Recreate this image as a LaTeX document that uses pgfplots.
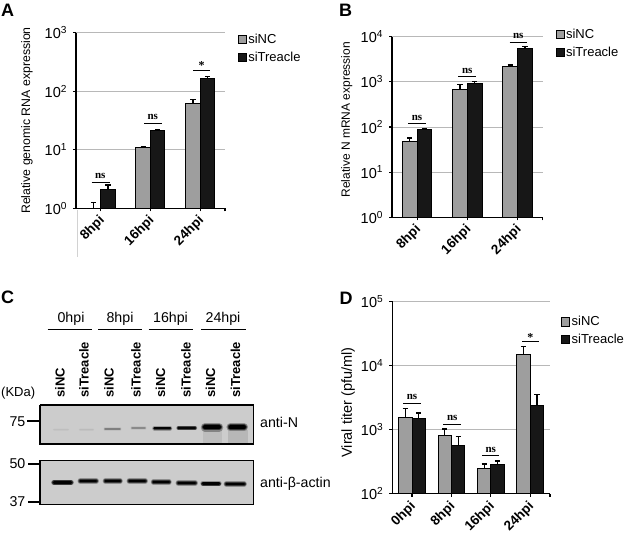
\documentclass[border=0pt]{standalone}
\usepackage{pgfplots}
\pgfplotsset{compat=1.18}
\usepackage{fontspec}
\setmainfont{Liberation Sans}
\newfontfamily\serifb{Liberation Serif}
\definecolor{barg}{gray}{0.62}
\definecolor{bark}{gray}{0.09}
\definecolor{gridg}{gray}{0.72}
\newcommand\sg[5]{\draw[line width=0.9pt] (#1,#3) -- (#2,#3); \node[font=\serifb\bfseries\fontsize{11}{11}\selectfont,inner sep=0pt] at (#4,#5) {ns};}
\newcommand\st[5]{\draw[line width=0.9pt] (#1,#3) -- (#2,#3); \node[font=\serifb\bfseries\fontsize{12}{12}\selectfont,inner sep=0pt] at (#4,#5) {*};}
\pgfplotsset{
 myng/.style={draw=black,line width=1pt,fill=barg},
 mynk/.style={draw=black,line width=1pt,fill=bark},
 mypanel/.style={
  scale only axis, clip=false,
  axis lines*=left, axis line style={-,line width=1.5pt,black},
  log origin=infty,
  ybar=0pt,
  ymajorgrids, grid style={gridg,line width=0.9pt},
  tick style={black,line width=1.1pt}, tick align=outside, major tick length=3pt,
  minor tick length=0pt, minor y tick num=0,
  yticklabel style={font=\fontsize{14.5}{15}\selectfont,xshift=-2.5pt},
  xticklabel style={font=\bfseries\fontsize{13.5}{14}\selectfont,rotate=45,anchor=north east,inner sep=0pt,xshift=-4pt,yshift=0pt},
  ylabel style={anchor=center},
  error bars/y dir=plus, error bars/y explicit,
  error bars/error bar style={line width=1.2pt,black},
  error bars/error mark options={rotate=90,mark size=2.6pt,line width=1.2pt,black},
  legend image code/.code={\fill[black] (-0.5pt,-4.1pt) rectangle (7.7pt,4.1pt);\draw[##1,draw=none] (0pt,-3.6pt) rectangle (7.2pt,3.6pt);},
  legend cell align=left,
  legend style={draw=none,fill=none,inner sep=0pt,font=\fontsize{13}{14}\selectfont,row sep=4.5pt,
     nodes={inner sep=1.2pt}},
 },
}
\newcommand\band[7]{%
 \addplot[draw=black,line cap=round,line width=#4*1.7pt,draw opacity=#5] coordinates {(#1,#3) (#2,#3)};
 \addplot[draw=black,line cap=round,line width=#4*1.25pt,draw opacity=#6] coordinates {(#1,#3) (#2,#3)};
 \addplot[draw=black,line cap=round,line width=#4*0.8pt,draw opacity=#7] coordinates {(#1,#3) (#2,#3)};
}
\begin{document}
\begin{tikzpicture}[x=1pt,y=-1pt]
\useasboundingbox (0,0) rectangle (625,536);
% panel C blot
\begin{axis}[at={(0pt,-536pt)},anchor=south west,scale only axis,width=625pt,height=536pt,
  xmin=0,xmax=625,ymin=0,ymax=536,y dir=reverse,hide axis,clip=false]
 \addplot[fill=white!80!black,draw=black,line width=1.6pt] coordinates {(40,404.7)(253.3,404.7)(253.3,444)(40,444)(40,404.7)};
 \addplot[fill=white!80!black,draw=black,line width=1.6pt] coordinates {(40,460.3)(253.3,460.3)(253.3,504.5)(40,504.5)(40,460.3)};
 % anti-N bands
 \band{54}{68}{429.5}{1.6}{0.01}{0.02}{0.03}
 \band{80}{93}{429.5}{1.6}{0.015}{0.025}{0.04}
 \band{105}{120}{429}{1.8}{0.06}{0.12}{0.24}
 \band{132}{145}{428}{1.8}{0.05}{0.10}{0.20}
 \band{154.5}{170}{428.3}{2.7}{0.25}{0.55}{0.95}
 \band{178.5}{195}{428}{2.7}{0.25}{0.55}{0.90}
 \addplot[draw=none,fill=black,fill opacity=0.07] coordinates {(203,430)(222,430)(222,443)(203,443)};
 \addplot[draw=none,fill=black,fill opacity=0.10] coordinates {(228,430)(248,430)(248,443)(228,443)};
 \band{205}{219}{427.3}{5}{0.3}{0.6}{1}
 \band{230.5}{244}{427.3}{4.8}{0.3}{0.6}{1}
 % actin bands
 \band{54}{71}{482.5}{3.5}{0.3}{0.6}{0.97}
 \band{80.5}{96}{481}{3.5}{0.3}{0.6}{0.97}
 \band{105.5}{120}{481}{3.3}{0.3}{0.6}{0.97}
 \band{129.5}{145}{481}{3.5}{0.3}{0.6}{0.97}
 \band{153.5}{169}{482}{3.2}{0.3}{0.6}{0.97}
 \band{178.5}{195}{483}{3.5}{0.3}{0.6}{0.97}
 \band{203}{219}{483.5}{3.2}{0.3}{0.6}{0.97}
 \band{226.5}{244}{484}{3.4}{0.3}{0.6}{0.97}
\end{axis}
% panel A
\begin{semilogyaxis}[mypanel,at={(76pt,-208.3pt)},anchor=south west,width=149pt,height=175.6pt,bar width=14.5pt,
  xmin=-0.5,xmax=2.5,ymin=1,ymax=1000,
  xtick={0,1,2},xticklabels={8hpi,16hpi,24hpi},extra x ticks={2.5},extra x tick labels={},
  ytick={1,10,100,1000},yticklabels={10\textsuperscript{0},10\textsuperscript{1},10\textsuperscript{2},10\textsuperscript{3}},
  ylabel={Relative genomic RNA expression},y label style={at={(axis description cs:-0.33,0.5)},font=\fontsize{12.3}{14}\selectfont},
  legend style={at={(rel axis cs:1.085,1.0)},anchor=north west}]
 \addplot[myng] coordinates {(0,1) +- (0,0.25) (1,10.9) +- (0,0.3) (2,62.7) +- (0,8.8)};
 \addplot[mynk] coordinates {(0,2.1) +- (0,0.4) (1,21.7) +- (0,0.3) (2,163) +- (0,18)};
 \legend{siNC,siTreacle}
\end{semilogyaxis}
% panel B
\begin{semilogyaxis}[mypanel,at={(392pt,-217.3pt)},anchor=south west,width=150.7pt,height=180.6pt,bar width=14.8pt,
  xmin=-0.5,xmax=2.5,ymin=1,ymax=10000,
  xtick={0,1,2},xticklabels={8hpi,16hpi,24hpi},extra x ticks={2.5},extra x tick labels={},
  ytick={1,10,100,1000,10000},yticklabels={10\textsuperscript{0},10\textsuperscript{1},10\textsuperscript{2},10\textsuperscript{3},10\textsuperscript{4}},
  ylabel={Relative N mRNA expression},y label style={at={(axis description cs:-0.30,0.54)},font=\fontsize{12}{14}\selectfont},
  legend style={at={(rel axis cs:1.085,1.05)},anchor=north west}]
 \addplot[myng] coordinates {(0,47) +- (0,10) (1,682) +- (0,184) (2,2204) +- (0,156)};
 \addplot[mynk] coordinates {(0,86) +- (0,6) (1,942) +- (0,66) (2,5424) +- (0,586)};
 \legend{siNC,siTreacle}
\end{semilogyaxis}
% panel D
\begin{semilogyaxis}[mypanel,at={(392.3pt,-493.7pt)},anchor=south west,width=157.7pt,height=192.4pt,bar width=13.4pt,
  xmin=-0.5,xmax=3.5,ymin=100,ymax=100000,
  xtick={0,1,2,3},xticklabels={0hpi,8hpi,16hpi,24hpi},extra x ticks={3.5},extra x tick labels={},
  ytick={100,1000,10000,100000},yticklabels={10\textsuperscript{2},10\textsuperscript{3},10\textsuperscript{4},10\textsuperscript{5}},
  ylabel={Viral titer (pfu/ml)},y label style={at={(axis description cs:-0.28,0.474)},font=\fontsize{14.5}{15}\selectfont},
  legend style={at={(rel axis cs:1.07,0.928)},anchor=north west}]
 \addplot[myng] coordinates {(0,1535) +- (0,608) (1,804) +- (0,217) (2,251) +- (0,39) (3,14730) +- (0,5130)};
 \addplot[mynk] coordinates {(0,1514) +- (0,298) (1,574) +- (0,210) (2,287) +- (0,36) (3,2388) +- (0,1112)};
 \legend{siNC,siTreacle}
\end{semilogyaxis}
% significance marks
\sg{91.7}{110}{182}{100.3}{176}
\sg{144}{161.7}{123}{152.7}{117.3}
\st{193.3}{210}{70}{201.7}{66}
\sg{408.3}{426}{123.3}{417}{118}
\sg{458.3}{476}{76.3}{467.3}{70.5}
\sg{509.7}{526.7}{42}{518.3}{36}
\sg{403.3}{420.7}{403}{412}{397}
\sg{443.3}{460.7}{424}{452.3}{418}
\sg{482.3}{499.3}{455.3}{490.7}{450}
\st{522}{538.7}{341.3}{530.3}{338}
% stray line panel A
\draw[gray!35,line width=0.6pt] (77,210) -- (77,257);
% panel letters
\tikzset{pl/.style={font=\bfseries\fontsize{18}{18}\selectfont,inner sep=0pt,anchor=west}}
\node[pl] at (1,10.5) {A};
\node[pl] at (339,10.5) {B};
\node[pl] at (1,297) {C};
\node[pl] at (339.5,298) {D};
% panel C labels
\tikzset{ct/.style={font=\fontsize{14.2}{14}\selectfont,inner sep=0pt},
 cv/.style={font=\bfseries\fontsize{13}{13}\selectfont,inner sep=0pt,rotate=90,anchor=west}}
\node[ct] at (71,319) {0hpi};
\node[ct] at (120,319) {8hpi};
\node[ct] at (170.5,319) {16hpi};
\node[ct] at (223,319) {24hpi};
\foreach \a/\b in {47.7/91.7,98/142,148.7/192.7,201/245.7} \draw[line width=1.2pt] (\a,329.7) -- (\b,329.7);
\foreach \x/\t in {60/siNC,84/siTreacle,109/siNC,136/siTreacle,160.5/siNC,186/siTreacle,210.5/siNC,235.5/siTreacle}
  \node[cv] at (\x,397.7) {\t};
\node[ct,anchor=west,font=\fontsize{13}{13}\selectfont] at (1,393) {(KDa)};
\node[ct,anchor=east] at (25.5,421.5) {75};
\node[ct,anchor=east] at (25.5,464) {50};
\node[ct,anchor=east] at (25.5,502) {37};
\draw[line width=1.6pt] (27,420.7) -- (39,420.7);
\draw[line width=1.6pt] (28,464) -- (39,464);
\draw[line width=1.6pt] (28,501.7) -- (39,501.7);
\node[ct,anchor=west] at (260,422.7) {anti-N};
\node[ct,anchor=west] at (260,484) {anti-β-actin};
\end{tikzpicture}
\end{document}
